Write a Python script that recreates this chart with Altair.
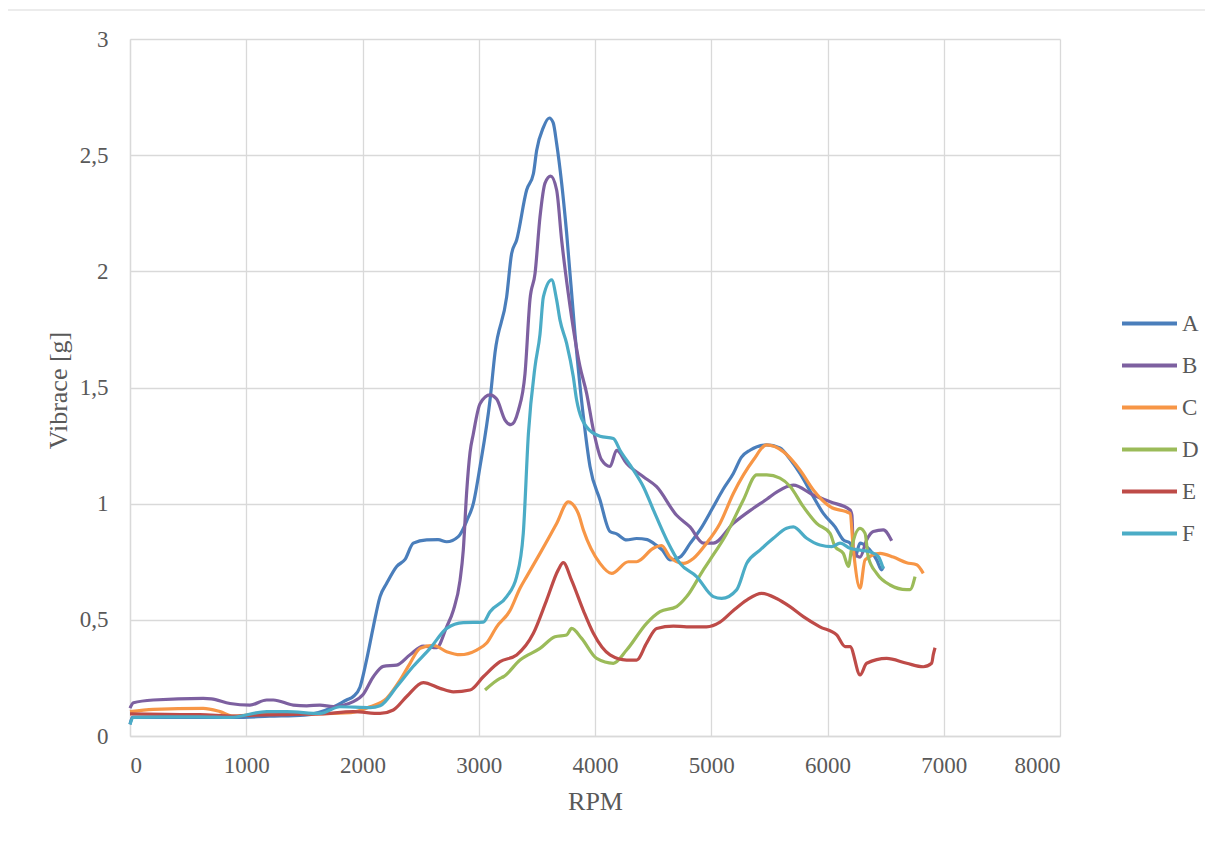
import altair as alt
import pandas as pd

series_names = ["A", "B", "C", "D", "E", "F"]
colors = ["#4A7EBB", "#7D60A0", "#F79646", "#9BBB59", "#BE4B48", "#4BACC6"]
x_ticks = [0, 1000, 2000, 3000, 4000, 5000, 6000, 7000, 8000]
y_ticks = [0, 0.5, 1, 1.5, 2, 2.5, 3]

a_rpm = [0, 20, 200, 600, 900, 1200, 1500, 1750, 1863, 1921, 1978, 2036, 2093, 2151, 2208, 2294, 2366, 2437,
         2552, 2650, 2724, 2824, 2900, 2953, 3011, 3097, 3140, 3240, 3283, 3326, 3412, 3470, 3498, 3556, 3607,
         3640, 3670, 3713, 3756, 3828, 3900, 3957, 4043, 4129, 4186, 4272, 4358, 4450, 4502, 4580, 4645, 4731,
         4820, 4903, 5018, 5100, 5190, 5260, 5333, 5477, 5591, 5680, 5763, 5878, 5964, 6065, 6136, 6194, 6237,
         6280, 6337, 6423, 6466, 6480]
a_val = [0.05, 0.08, 0.08, 0.08, 0.08, 0.085, 0.09, 0.125, 0.155, 0.17, 0.21, 0.33, 0.47, 0.60, 0.657, 0.73,
         0.76, 0.83, 0.844, 0.845, 0.836, 0.858, 0.93, 1.0, 1.16, 1.446, 1.65, 1.89, 2.077, 2.135, 2.35, 2.42,
         2.52, 2.62, 2.66, 2.64, 2.55, 2.38, 2.165, 1.73, 1.375, 1.16, 1.016, 0.88, 0.87, 0.844, 0.85, 0.845,
         0.83, 0.80, 0.758, 0.77, 0.83, 0.887, 0.987, 1.06, 1.13, 1.2, 1.23, 1.253, 1.24, 1.19, 1.13, 1.03,
         0.958, 0.90, 0.844, 0.83, 0.77, 0.83, 0.815, 0.758, 0.715, 0.73]

b_rpm = [0, 30, 200, 630, 700, 860, 1032, 1176, 1233, 1405, 1520, 1634, 1749, 1921, 2007, 2093, 2179, 2294,
         2409, 2523, 2638, 2724, 2781, 2839, 2867, 2896, 2925, 2953, 3011, 3097, 3154, 3226, 3277, 3340, 3398,
         3441, 3484, 3527, 3570, 3619, 3670, 3713, 3770, 3871, 3928, 3986, 4057, 4129, 4186, 4272, 4416, 4530,
         4702, 4817, 4932, 5018, 5190, 5362, 5480, 5562, 5706, 5878, 6022, 6194, 6210, 6223, 6280, 6337, 6394,
         6480, 6552]
b_val = [0.12, 0.143, 0.155, 0.162, 0.16, 0.14, 0.133, 0.155, 0.155, 0.133, 0.13, 0.133, 0.127, 0.148, 0.18,
         0.255, 0.30, 0.305, 0.35, 0.387, 0.38, 0.47, 0.54, 0.67, 0.80, 1.05, 1.22, 1.30, 1.43, 1.468, 1.45,
         1.36, 1.34, 1.40, 1.56, 1.88, 1.99, 2.235, 2.38, 2.41, 2.35, 2.135, 1.905, 1.59, 1.475, 1.317, 1.188,
         1.16, 1.23, 1.173, 1.116, 1.073, 0.95, 0.90, 0.83, 0.83, 0.915, 0.98, 1.02, 1.05, 1.08, 1.037, 1.008,
         0.973, 0.95, 0.80, 0.77, 0.844, 0.88, 0.887, 0.84]

c_rpm = [0, 200, 630, 774, 889, 1000, 1300, 1600, 1900, 2065, 2208, 2323, 2409, 2495, 2609, 2724, 2839, 2982,
         3068, 3154, 3269, 3355, 3412, 3527, 3670, 3770, 3856, 3900, 4043, 4143, 4287, 4358, 4502, 4573, 4645,
         4760, 4846, 4960, 5075, 5190, 5362, 5477, 5620, 5763, 5878, 6022, 6194, 6223, 6280, 6323, 6452, 6566,
         6681, 6767, 6824]
c_val = [0.105, 0.115, 0.119, 0.105, 0.086, 0.09, 0.10, 0.095, 0.10, 0.126, 0.162, 0.24, 0.313, 0.377, 0.39,
         0.363, 0.35, 0.37, 0.40, 0.47, 0.54, 0.636, 0.686, 0.786, 0.915, 1.008, 0.958, 0.887, 0.743, 0.70,
         0.75, 0.75, 0.808, 0.82, 0.77, 0.743, 0.764, 0.83, 0.915, 1.044, 1.188, 1.253, 1.224, 1.145, 1.059,
         0.987, 0.958, 0.80, 0.636, 0.758, 0.786, 0.77, 0.746, 0.737, 0.70]

d_rpm = [3054, 3183, 3212, 3355, 3527, 3656, 3756, 3799, 3885, 4014, 4158, 4272, 4444, 4559, 4702, 4789, 4932,
         4989, 5133, 5276, 5391, 5477, 5591, 5677, 5792, 5907, 6022, 6065, 6136, 6180, 6208, 6280, 6323, 6351,
         6423, 6538, 6681, 6710, 6753]
d_val = [0.198, 0.248, 0.255, 0.327, 0.377, 0.427, 0.435, 0.463, 0.42, 0.334, 0.313, 0.37, 0.485, 0.535, 0.557,
         0.60, 0.715, 0.758, 0.872, 1.016, 1.124, 1.124, 1.11, 1.075, 0.987, 0.915, 0.872, 0.815, 0.786, 0.73,
         0.81, 0.894, 0.872, 0.77, 0.70, 0.65, 0.63, 0.63, 0.686]

e_rpm = [0, 300, 600, 889, 1061, 1400, 1634, 1921, 2151, 2265, 2380, 2523, 2667, 2781, 2925, 3039, 3183, 3326,
         3470, 3584, 3684, 3727, 3799, 3900, 3986, 4129, 4272, 4358, 4444, 4530, 4674, 4788, 4960, 5075, 5190,
         5305, 5434, 5562, 5677, 5792, 5935, 6079, 6151, 6194, 6280, 6337, 6509, 6681, 6824, 6896, 6910, 6925]
e_val = [0.095, 0.093, 0.092, 0.086, 0.09, 0.093, 0.095, 0.105, 0.097, 0.112, 0.17, 0.23, 0.205, 0.19, 0.198,
         0.255, 0.32, 0.349, 0.442, 0.585, 0.715, 0.746, 0.67, 0.54, 0.442, 0.349, 0.327, 0.327, 0.40, 0.463,
         0.473, 0.47, 0.47, 0.49, 0.54, 0.585, 0.614, 0.592, 0.557, 0.514, 0.47, 0.435, 0.385, 0.385, 0.263,
         0.313, 0.334, 0.313, 0.298, 0.313, 0.35, 0.38]

f_rpm = [0, 30, 300, 600, 860, 1176, 1348, 1634, 1806, 2065, 2151, 2294, 2437, 2581, 2724, 2867, 3039, 3097,
         3240, 3326, 3383, 3427, 3484, 3527, 3556, 3627, 3670, 3699, 3756, 3813, 3842, 3928, 4043, 4158, 4215,
         4330, 4416, 4502, 4617, 4731, 4874, 5018, 5090, 5218, 5305, 5419, 5534, 5648, 5706, 5821, 5935, 6036,
         6108, 6194, 6280, 6366, 6437, 6480]
f_val = [0.05, 0.08, 0.082, 0.082, 0.08, 0.105, 0.105, 0.097, 0.126, 0.122, 0.13, 0.212, 0.30, 0.377, 0.463,
         0.488, 0.49, 0.535, 0.60, 0.686, 0.872, 1.30, 1.59, 1.73, 1.89, 1.963, 1.877, 1.79, 1.69, 1.547, 1.446,
         1.33, 1.29, 1.28, 1.23, 1.145, 1.073, 0.973, 0.844, 0.743, 0.686, 0.60, 0.592, 0.629, 0.743, 0.80,
         0.851, 0.894, 0.90, 0.851, 0.822, 0.815, 0.83, 0.808, 0.80, 0.793, 0.772, 0.72]

rows = []
for name, rpm, val in zip(series_names,
                          [a_rpm, b_rpm, c_rpm, d_rpm, e_rpm, f_rpm],
                          [a_val, b_val, c_val, d_val, e_val, f_val]):
    for i, (r, v) in enumerate(zip(rpm, val)):
        rows.append({"series": name, "rpm": r, "vib": v, "i": i})
df = pd.DataFrame(rows)

FONT = "Liberation Serif"
TXT = "#595959"
GRID = "#D9D9D9"

frame = alt.Chart(alt.Data(values=[{}])).mark_rect(
    fillOpacity=0, stroke=GRID, strokeWidth=1
).encode(
    x=alt.value(-123), x2=alt.value(1120), y=alt.value(-29), y2=alt.value(830)
)

lines = alt.Chart(df).mark_line(strokeWidth=3.2, interpolate="monotone").encode(
    x=alt.X("rpm:Q",
            scale=alt.Scale(domain=[0, 8000], nice=False, zero=True),
            axis=alt.Axis(values=x_ticks, format="d", title="RPM",
                          labelPadding=36, labelBaseline="alphabetic",
                          titleY=73, titleBaseline="alphabetic")),
    y=alt.Y("vib:Q",
            scale=alt.Scale(domain=[0, 3], nice=False),
            axis=alt.Axis(values=y_ticks, title="Vibrace [g]",
                          labelExpr="replace(toString(datum.value), '.', ',')",
                          labelPadding=22, titleX=-72, titleY=351,
                          titleBaseline="middle", titleAlign="center")),
    color=alt.Color("series:N",
                    scale=alt.Scale(domain=series_names, range=colors),
                    legend=alt.Legend(title=None, orient="none", legendX=990, legendY=255,
                                      symbolType="stroke", symbolSize=3025,
                                      symbolStrokeWidth=4, labelOffset=3,
                                      rowPadding=-16)),
    order="i:Q",
)

chart = alt.layer(frame, lines).properties(
    width=930, height=697,
    autosize=alt.AutoSizeParams(type="none"),
    padding={"left": 122, "top": 31, "right": 145, "bottom": 95},
).configure_view(strokeWidth=0).configure_axis(
    labelFont=FONT, titleFont=FONT, labelColor=TXT, titleColor=TXT,
    labelFontSize=23, titleFontSize=26, titleFontWeight="normal",
    grid=True, gridColor=GRID, gridWidth=1.3,
    domainColor=GRID, domainWidth=1.3, ticks=False, tickSize=0,
).configure_legend(
    labelFont=FONT, labelColor=TXT, labelFontSize=23,
)

chart.save("out.html", embed_options={"renderer": "svg", "actions": False})
